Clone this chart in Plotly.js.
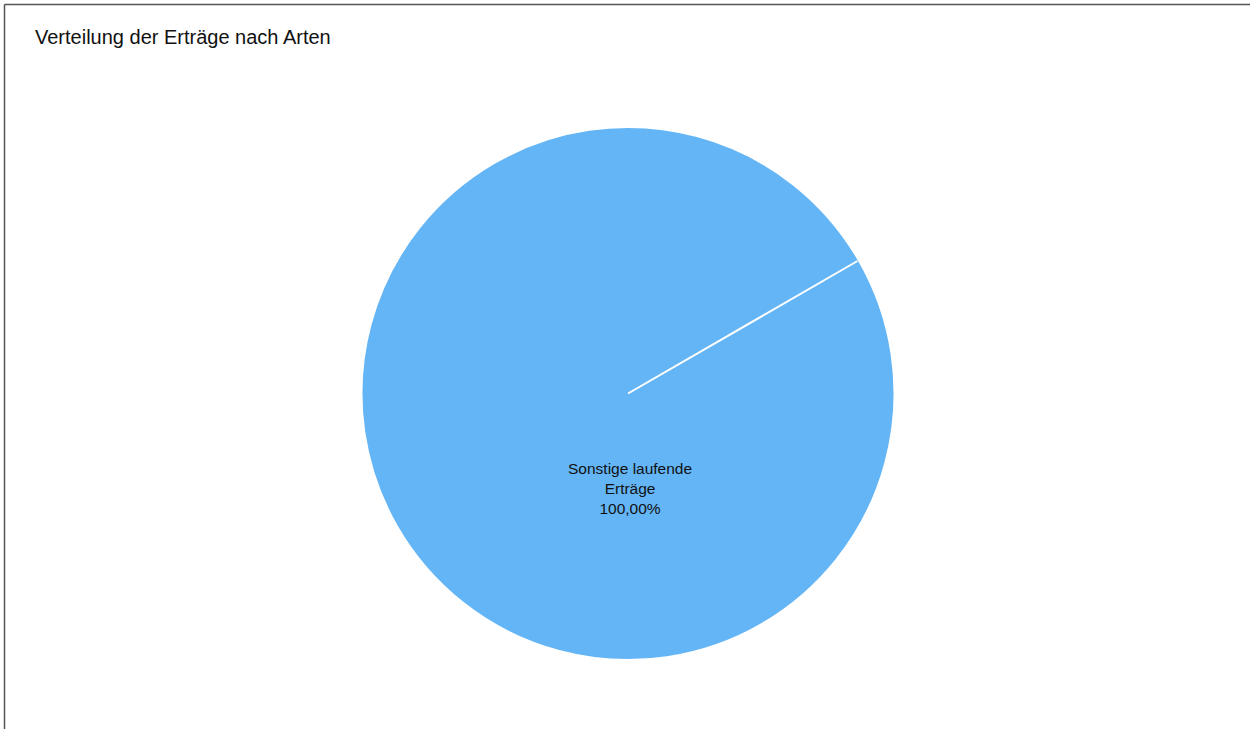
<!DOCTYPE html>
<html>
<head>
<meta charset="utf-8">
<script src="https://cdn.plot.ly/plotly-3.0.1.min.js"></script>
<style>html,body{margin:0;padding:0;background:#fff;}#chart{width:1250px;height:729px;}</style>
</head>
<body>
<div id="chart"></div>
<script>
const categories = ["Sonstige laufende Erträge"];
const values = [100];
const labelLines = ["Sonstige laufende", "Erträge"];
const percentLabels = ["100,00%"];
const sliceColors = ["#64B5F6"];
const titleText = "Verteilung der Erträge nach Arten";

const W = 1250, H = 729;
const cx = 628, cy = 393.5, R = 265;
const rotation = 60; // degrees clockwise from 12 o'clock
const Rd = R + 1.5;

const data = [{
  type: "pie",
  labels: categories,
  values: values,
  marker: {colors: sliceColors, line: {color: "#ffffff", width: 2}},
  textinfo: "none",
  sort: false,
  direction: "clockwise",
  rotation: rotation,
  hoverinfo: "label+percent",
  domain: {x: [(cx - Rd) / W, (cx + Rd) / W], y: [1 - (cy + Rd) / H, 1 - (cy - Rd) / H]}
}];

const rad = rotation * Math.PI / 180;
const layout = {
  width: W, height: H,
  margin: {l: 0, r: 0, t: 0, b: 0},
  paper_bgcolor: "#ffffff",
  showlegend: false,
  font: {family: "Liberation Sans, Arial, sans-serif", color: "#000"},
  title: {text: titleText, x: 35 / W, xanchor: "left", xref: "paper", y: 1 - 37 / H, yanchor: "middle", yref: "paper",
          font: {family: "Liberation Sans, Arial, sans-serif", size: 20, color: "#111"}},
  annotations: [{
    text: labelLines.join("<br>") + "<br>" + percentLabels[0],
    xref: "paper", yref: "paper", x: 630 / W, y: 1 - 488 / H,
    xanchor: "center", yanchor: "middle", showarrow: false,
    font: {family: "Liberation Sans, Arial, sans-serif", size: 15.5, color: "#111"}
  }],
  shapes: [
    {type: "line", xref: "paper", yref: "paper", xsizemode: "pixel", ysizemode: "pixel",
     xanchor: cx / W, yanchor: 1 - cy / H, x0: 0, y0: 0, x1: R * Math.sin(rad), y1: R * Math.cos(rad),
     line: {color: "#ffffff", width: 2}},
    {type: "line", xref: "paper", yref: "paper", x0: 4.5 / W, x1: 4.5 / W, y0: 0, y1: 1 - 4.5 / H,
     line: {color: "#555555", width: 1.5}},
    {type: "line", xref: "paper", yref: "paper", x0: 4.5 / W, x1: 1, y0: 1 - 4.5 / H, y1: 1 - 4.5 / H,
     line: {color: "#555555", width: 1.5}}
  ]
};

Plotly.newPlot("chart", data, layout, {displayModeBar: false});
</script>
</body>
</html>
